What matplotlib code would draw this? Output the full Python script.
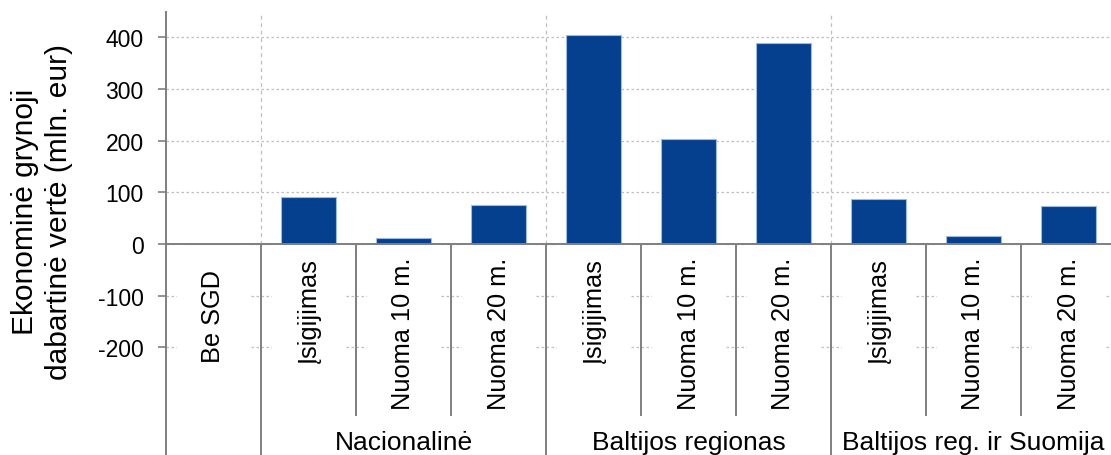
import matplotlib
matplotlib.use('Agg')
import matplotlib.pyplot as plt
import numpy as np

# Chart data
categories = ['Be SGD',
              'Įsigijimas', 'Nuoma 10 m.', 'Nuoma 20 m.',
              'Įsigijimas', 'Nuoma 10 m.', 'Nuoma 20 m.',
              'Įsigijimas', 'Nuoma 10 m.', 'Nuoma 20 m.']
values = [0, 91, 11, 76, 405, 204, 389, 88, 16, 73]
groups = ['Nacionalinė', 'Baltijos regionas', 'Baltijos reg. ir Suomija']
group_sizes = [3, 3, 3]
yticks = [-200, -100, 0, 100, 200, 300, 400]
ylabel = 'Ekonominė grynoji\ndabartinė vertė (mln. eur)'

plt.rcParams['font.family'] = ['Liberation Sans', 'DejaVu Sans']
plt.rcParams['axes.unicode_minus'] = False

bar_color = '#05408f'
line_color = '#7f7f7f'
grid_color = '#bfbfbf'

W, H = 1111, 456
fig = plt.figure(figsize=(W / 100, H / 100), dpi=100)
# axes runs past the right and bottom edges, like the cropped original
ax = fig.add_axes([166 / W, 0.0, 950 / W, 1 - 13 / H])
ax.set_xlim(-0.5, len(categories) - 0.5)
ax.set_ylim(-408, 449)

for s in ['top', 'right', 'bottom']:
    ax.spines[s].set_visible(False)
ax.spines['left'].set_color(line_color)
ax.spines['left'].set_linewidth(1.4)
ax.spines['left'].set_zorder(6)

ax.set_xticks([])
ax.set_yticks(yticks)
ax.set_yticklabels([str(t) for t in yticks], fontsize=16.5)
ax.tick_params(axis='y', direction='out', length=6, width=1.2,
               color=line_color, pad=10)

# horizontal grid
ax.yaxis.grid(True, color=grid_color, linestyle=(0, (2, 2)), linewidth=0.9)
ax.set_axisbelow(True)

x = np.arange(len(categories))
ax.bar(x, values, width=0.58, color=bar_color, edgecolor='#9dbbe0',
       linewidth=0.8, zorder=3)

# zero line
ax.axhline(0, color=line_color, linewidth=1.4, zorder=5)

# group boundaries
starts = np.cumsum([1] + group_sizes[:-1])
bounds = np.append(starts, len(categories)) - 0.5
ax.vlines(bounds[:-1], 0, 449, colors=grid_color,
          linestyles=(0, (3, 3)), linewidth=0.9, zorder=1)
ax.vlines(bounds[:-1], -408, 0, colors=line_color, linewidth=1.4, zorder=5)
inner = [b + k for b, n in zip(bounds[:-1], group_sizes) for k in range(1, n)]
ax.vlines(inner, -333, 0, colors=line_color, linewidth=1.4, zorder=5)

# category labels
box = dict(facecolor='white', edgecolor='none', pad=18)
for i, lab in enumerate(categories):
    top = -48 if i == 0 else -25
    ax.text(i, top, lab, rotation=90, ha='center', va='top',
            fontsize=18.3, bbox=box, zorder=2)

# group labels
for g, b0, b1 in zip(groups, bounds[:-1], bounds[1:]):
    ax.text((b0 + b1) / 2, -383, g, ha='center', va='center', fontsize=19)

fig.text(42 / W, 1 - 212 / H, ylabel, rotation=90, ha='center', va='center',
         fontsize=21.5, multialignment='center', linespacing=1.25)

fig.savefig('out.png', dpi=100)
